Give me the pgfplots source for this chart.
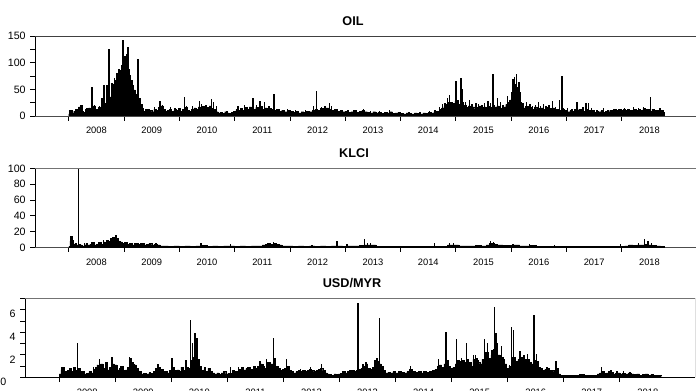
\documentclass[border=0pt]{standalone}
\usepackage{pgfplots}
\pgfplotsset{compat=1.18}
\usepackage{fontspec}
\setmainfont{Liberation Sans}
\pgfplotsset{panel/.style={
  scale only axis, xmin=2007.39, xmax=2019.34, ymin=0,
  axis x line*=bottom, axis y line*=left,
  tick align=outside, major tick length=3.5pt, minor tick length=3.5pt,
  xtick={2008,...,2018}, xticklabels={},
  extra x ticks={2008.5,2009.5,...,2018.5},
  extra x tick labels={2008,2009,2010,2011,2012,2013,2014,2015,2016,2017,2018},
  extra x tick style={tick style={draw=none}},
  x tick label style={font=\fontsize{7}{8}\selectfont, yshift=-1.5pt},
  y tick label style={font=\fontsize{8}{9}\selectfont},
  /pgf/number format/assume math mode=true,
  axis line style={line width=0.6pt},
  tick style={black, line width=0.6pt},
  x axis line style={black!70},
  y axis line style={black},
}}
\begin{document}
\begin{tikzpicture}
\useasboundingbox (0,0) rectangle (522pt,-293.25pt);
\node[font=\fontsize{9.5}{11}\selectfont\bfseries] at (264.75pt,-16.1pt) {OIL};
\node[font=\fontsize{9.5}{11}\selectfont\bfseries] at (265.5pt,-114.75pt) {KLCI};
\node[font=\fontsize{9.5}{11}\selectfont\bfseries] at (264pt,-212.25pt) {USD/MYR};
% ---------------- OIL
\begin{axis}[panel, at={(26.25pt,-87pt)}, anchor=south west, width=495.75pt, height=60pt,
  ymax=150, ytick={0,50,100,150}, minor ytick={25,75,125}]
\addplot[const plot, fill=black, draw=black, line width=0.3pt] coordinates {
(2008.00,4)(2008.03,10)(2008.06,6)(2008.09,9)(2008.12,13)(2008.15,8)(2008.18,17)(2008.21,20)(2008.24,9)(2008.27,7)
(2008.30,13)(2008.33,9)(2008.36,15)(2008.39,11)(2008.42,14)(2008.45,19)(2008.48,13)(2008.51,11)(2008.54,17)(2008.57,14)
(2008.60,20)(2008.63,18)(2008.66,24)(2008.69,27)(2008.72,32)(2008.75,36)(2008.78,50)(2008.81,60)(2008.84,67)(2008.87,74)
(2008.90,80)(2008.93,86)(2008.96,92)(2008.99,98)(2009.02,92)(2009.05,85)(2009.08,76)(2009.11,67)(2009.14,58)(2009.17,49)
(2009.20,40)(2009.23,33)(2009.26,28)(2009.29,22)(2009.32,14)(2009.35,9)(2009.38,12)(2009.42,7)(2009.46,11)(2009.50,8)
(2009.54,13)(2009.58,10)(2009.62,16)(2009.66,19)(2009.70,12)(2009.74,9)(2009.78,11)(2009.82,13)(2009.86,9)(2009.90,12)
(2009.94,10)(2009.98,14)(2010.02,9)(2010.06,12)(2010.10,16)(2010.14,11)(2010.18,9)(2010.22,13)(2010.26,15)(2010.30,12)
(2010.34,17)(2010.38,14)(2010.42,18)(2010.46,13)(2010.50,16)(2010.54,19)(2010.58,14)(2010.62,12)(2010.66,8)(2010.70,6)
(2010.74,7)(2010.78,5)(2010.82,8)(2010.86,6)(2010.90,5)(2010.94,7)(2010.98,9)(2011.02,12)(2011.06,10)(2011.10,14)
(2011.14,11)(2011.18,16)(2011.22,13)(2011.26,17)(2011.30,15)(2011.34,12)(2011.38,16)(2011.42,14)(2011.46,18)(2011.50,13)
(2011.54,15)(2011.58,11)(2011.62,14)(2011.66,12)(2011.70,10)(2011.75,12)(2011.80,9)(2011.85,11)(2011.90,8)(2011.95,10)
(2012.00,9)(2012.05,7)(2012.10,9)(2012.15,6)(2012.20,8)(2012.25,7)(2012.30,9)(2012.35,8)(2012.40,11)(2012.45,13)
(2012.50,11)(2012.55,14)(2012.60,12)(2012.65,15)(2012.70,13)(2012.75,11)(2012.80,12)(2012.85,9)(2012.90,10)(2012.95,8)
(2013.00,9)(2013.05,7)(2013.10,8)(2013.15,10)(2013.20,7)(2013.25,9)(2013.30,11)(2013.35,8)(2013.40,7)(2013.45,6)
(2013.50,8)(2013.55,6)(2013.60,7)(2013.65,5)(2013.70,7)(2013.75,6)(2013.80,8)(2013.85,5)(2013.90,6)(2013.95,7)
(2014.00,5)(2014.05,4)(2014.10,6)(2014.15,5)(2014.20,4)(2014.25,6)(2014.30,5)(2014.35,4)(2014.40,6)(2014.45,5)
(2014.50,7)(2014.55,6)(2014.60,8)(2014.65,9)(2014.70,12)(2014.74,15)(2014.78,18)(2014.82,22)(2014.86,25)(2014.90,20)
(2014.94,24)(2014.98,28)(2015.02,22)(2015.06,18)(2015.10,25)(2015.14,20)(2015.18,16)(2015.22,19)(2015.26,15)(2015.30,17)
(2015.34,13)(2015.38,16)(2015.42,19)(2015.46,14)(2015.50,17)(2015.54,15)(2015.58,18)(2015.62,16)(2015.66,20)(2015.70,17)
(2015.74,19)(2015.78,15)(2015.82,13)(2015.86,17)(2015.90,22)(2015.94,26)(2015.98,30)(2016.02,35)(2016.06,38)(2016.10,32)
(2016.14,25)(2016.18,20)(2016.22,15)(2016.26,18)(2016.30,14)(2016.34,16)(2016.38,13)(2016.42,17)(2016.46,14)(2016.50,12)
(2016.54,15)(2016.58,13)(2016.62,16)(2016.66,12)(2016.70,14)(2016.74,15)(2016.78,11)(2016.82,13)(2016.86,10)(2016.90,14)
(2016.94,9)(2016.98,11)(2017.02,8)(2017.06,10)(2017.10,9)(2017.14,12)(2017.18,10)(2017.22,13)(2017.26,11)(2017.30,9)
(2017.34,12)(2017.38,10)(2017.42,8)(2017.46,10)(2017.50,7)(2017.54,9)(2017.58,8)(2017.62,10)(2017.66,7)(2017.70,9)
(2017.74,8)(2017.78,11)(2017.82,9)(2017.86,12)(2017.90,10)(2017.94,13)(2017.98,11)(2018.02,12)(2018.06,10)(2018.10,13)
(2018.14,11)(2018.18,9)(2018.22,12)(2018.26,10)(2018.30,13)(2018.34,11)(2018.38,14)(2018.42,10)(2018.46,12)(2018.50,9)
(2018.54,13)(2018.58,10)(2018.62,11)(2018.66,8)(2018.70,10)(2018.74,7)(2018.77,5)
} \closedcycle;
\addplot[ycomb, black, line width=1pt, no marks] coordinates {
(2008.02,11)(2008.21,20)(2008.33,15)(2008.42,54)(2008.47,21)(2008.56,19)(2008.60,33)(2008.64,58)(2008.69,58)(2008.73,125)
(2008.78,62)(2008.83,72)(2008.87,80)(2008.91,88)(2008.95,95)(2008.98,142)(2009.00,100)(2009.02,112)(2009.05,116)(2009.07,129)
(2009.09,88)(2009.11,75)(2009.14,60)(2009.16,57)(2009.20,45)(2009.25,106)(2009.29,34)(2009.33,18)(2009.45,14)(2009.55,17)
(2009.65,29)(2009.70,20)(2009.84,16)(2009.92,15)(2010.09,36)(2010.13,19)(2010.24,18)(2010.36,28)(2010.40,22)(2010.48,20)
(2010.58,31)(2010.62,27)(2010.67,18)(2010.86,10)(2011.06,18)(2011.18,20)(2011.28,16)(2011.33,34)(2011.40,20)(2011.46,29)
(2011.54,26)(2011.62,19)(2011.71,42)(2011.80,14)(2011.95,13)(2012.10,11)(2012.28,12)(2012.42,19)(2012.48,46)(2012.57,17)
(2012.63,18)(2012.71,25)(2012.75,18)(2012.83,14)(2013.05,12)(2013.20,11)(2013.33,14)(2013.45,10)(2013.62,9)(2013.80,11)
(2013.97,8)(2014.15,8)(2014.35,7)(2014.52,10)(2014.62,12)(2014.70,17)(2014.76,22)(2014.80,24)(2014.85,34)(2014.88,40)
(2014.93,27)(2015.00,66)(2015.04,30)(2015.09,72)(2015.12,50)(2015.17,26)(2015.24,30)(2015.29,22)(2015.36,24)(2015.41,22)
(2015.47,20)(2015.52,25)(2015.58,29)(2015.63,24)(2015.67,79)(2015.70,20)(2015.75,33)(2015.80,27)(2015.85,20)(2015.93,37)
(2015.97,30)(2016.00,45)(2016.03,69)(2016.06,74)(2016.08,60)(2016.10,79)(2016.12,55)(2016.14,64)(2016.17,45)(2016.21,24)
(2016.28,27)(2016.34,22)(2016.39,18)(2016.44,20)(2016.49,27)(2016.53,18)(2016.58,22)(2016.63,18)(2016.68,20)(2016.75,29)
(2016.80,17)(2016.87,30)(2016.92,75)(2016.96,14)(2017.02,15)(2017.10,13)(2017.19,27)(2017.24,14)(2017.30,17)(2017.35,25)
(2017.40,25)(2017.45,15)(2017.55,12)(2017.67,15)(2017.75,12)(2017.85,13)(2017.95,14)(2018.05,15)(2018.13,14)(2018.21,16)
(2018.30,15)(2018.39,17)(2018.45,14)(2018.52,35)(2018.58,13)(2018.64,12)(2018.69,15)
};
\draw[black!75, line width=0.7pt] (rel axis cs:0,1) -- (rel axis cs:1,1);
\end{axis}
% ---------------- KLCI
\begin{axis}[panel, at={(26.25pt,-185.5pt)}, anchor=south west, width=495.75pt, height=59.25pt,
  ymax=100, ytick={0,20,40,60,80,100}]
\addplot[const plot, fill=black, draw=black, line width=0.3pt] coordinates {
(2008.00,1)(2008.02,8)(2008.04,14)(2008.06,9)(2008.08,4)(2008.11,5)(2008.14,3)(2008.17,4)(2008.20,3)(2008.24,2)
(2008.28,3)(2008.31,5)(2008.34,3)(2008.38,4)(2008.42,6)(2008.46,3)(2008.50,4)(2008.54,6)(2008.58,4)(2008.62,7)
(2008.66,5)(2008.69,9)(2008.72,8)(2008.75,11)(2008.78,10)(2008.80,13)(2008.82,12)(2008.84,15)(2008.86,11)(2008.89,8)
(2008.93,7)(2008.97,5)(2009.01,6)(2009.05,4)(2009.10,5)(2009.15,3)(2009.20,5)(2009.25,4)(2009.30,5)(2009.35,3)
(2009.40,4)(2009.45,5)(2009.50,3)(2009.55,4)(2009.60,3)(2009.65,2)(2009.70,2)(2009.80,1.5)(2009.90,2)(2010.00,1.5)
(2010.10,2)(2010.20,1.5)(2010.30,2)(2010.40,2.5)(2010.50,1.5)(2010.60,2)(2010.70,1.5)(2010.80,2)(2010.90,2)(2011.00,1.5)
(2011.10,2)(2011.20,1.5)(2011.30,2)(2011.40,2)(2011.50,3)(2011.55,4)(2011.60,5)(2011.65,4)(2011.70,5)(2011.75,4)
(2011.80,3)(2011.85,2)(2011.95,2)(2012.05,1.5)(2012.15,2)(2012.25,1.5)(2012.35,2)(2012.45,1.5)(2012.55,2)(2012.65,1.5)
(2012.75,2)(2012.85,2)(2012.95,1.5)(2013.05,2)(2013.15,2)(2013.25,2.5)(2013.35,3)(2013.45,3)(2013.55,1.5)(2013.65,1)
(2013.75,1)(2013.85,1)(2013.95,1)(2014.05,1)(2014.15,1)(2014.25,1)(2014.35,1.5)(2014.45,1)(2014.55,1.5)(2014.65,1.5)
(2014.75,1)(2014.85,3)(2014.95,3)(2015.05,2)(2015.15,2)(2015.25,2)(2015.35,2.5)(2015.45,2)(2015.55,3)(2015.60,5)
(2015.65,5)(2015.70,4)(2015.75,3)(2015.85,2.5)(2015.95,2.5)(2016.05,3)(2016.15,2)(2016.25,2)(2016.35,2.5)(2016.45,1.5)
(2016.55,1)(2016.65,1)(2016.75,1)(2016.85,1)(2016.95,1)(2017.05,1)(2017.15,1)(2017.25,1)(2017.35,1)(2017.45,1)
(2017.55,1)(2017.65,1)(2017.75,1)(2017.85,1)(2017.95,1.5)(2018.05,2)(2018.12,3)(2018.20,2.5)(2018.28,3)(2018.35,3)
(2018.42,4)(2018.48,3)(2018.55,2.5)(2018.62,2)(2018.70,1.5)(2018.77,1)
} \closedcycle;
\addplot[ycomb, black, line width=1pt, no marks] coordinates {
(2008.04,14)(2008.18,100)(2008.29,5)(2008.42,7)(2008.54,6)(2008.63,9)(2008.69,9)(2008.75,11)(2008.80,13.5)(2008.84,15.6)
(2008.88,11)(2008.93,7)(2009.05,6)(2009.20,6)(2009.36,5)(2009.47,6)(2009.58,5)(2010.39,6)(2010.92,4)(2011.60,6)
(2011.70,7)(2012.40,3)(2012.85,8)(2013.03,4)(2013.35,10)(2013.40,5)(2013.46,5)(2014.61,5)(2014.88,5)(2014.95,5)
(2015.62,7.5)(2015.68,7)(2016.03,4)(2016.33,4)(2016.78,3)(2017.97,4)(2018.30,5)(2018.41,10)(2018.47,8)(2018.53,5)
};
\draw[black!55, line width=0.8pt] (rel axis cs:0,1) -- (rel axis cs:1,1);
\end{axis}
% ---------------- USD/MYR
\begin{axis}[panel, at={(18.75pt,-283pt)}, anchor=south west, width=502.5pt, height=59.25pt,
  ymax=7, ytick={2,4,6}, minor ytick={1,3,5,7},
  yticklabel style={yshift=-3.5pt},
  extra y ticks={0}, extra y tick labels={0},
  extra y tick style={yticklabel style={xshift=-7pt}},
  x axis line style={black}]
\addplot[const plot, fill=black, draw=black, line width=0.3pt] coordinates {
(2008.00,0.3)(2008.03,0.65)(2008.06,0.9)(2008.09,0.5)(2008.12,0.3)(2008.15,0.6)(2008.18,0.8)(2008.21,0.5)(2008.25,0.9)(2008.29,0.6)
(2008.33,0.8)(2008.37,0.4)(2008.40,0.5)(2008.44,0.3)(2008.49,0.35)(2008.53,0.5)(2008.57,0.4)(2008.61,0.7)(2008.65,0.9)(2008.67,1.1)
(2008.70,0.9)(2008.74,1.2)(2008.78,0.8)(2008.82,1.3)(2008.86,0.65)(2008.90,0.9)(2008.94,1.2)(2008.98,1.1)(2009.03,0.65)(2009.07,0.8)
(2009.10,0.95)(2009.14,0.6)(2009.18,0.65)(2009.22,0.9)(2009.26,1.3)(2009.30,1.2)(2009.33,1.1)(2009.37,0.8)(2009.41,0.5)(2009.46,0.3)
(2009.50,0.35)(2009.55,0.3)(2009.60,0.4)(2009.64,0.35)(2009.68,0.5)(2009.72,0.8)(2009.76,0.9)(2009.80,0.7)(2009.85,0.5)(2009.89,0.5)
(2009.93,0.4)(2009.97,0.6)(2010.01,0.9)(2010.05,0.6)(2010.10,0.65)(2010.14,0.5)(2010.17,0.9)(2010.21,0.6)(2010.26,0.9)(2010.30,0.8)
(2010.34,1.5)(2010.38,1.8)(2010.42,1.9)(2010.46,1.6)(2010.49,0.95)(2010.53,0.6)(2010.57,0.65)(2010.61,0.5)(2010.65,0.8)(2010.69,0.5)
(2010.73,0.4)(2010.77,0.3)(2010.81,0.4)(2010.85,0.25)(2010.89,0.4)(2010.93,0.5)(2010.97,0.3)(2011.01,0.35)(2011.05,0.35)(2011.09,0.6)
(2011.13,0.5)(2011.17,0.5)(2011.21,0.7)(2011.25,0.9)(2011.29,0.65)(2011.33,0.8)(2011.37,0.9)(2011.41,0.7)(2011.46,0.95)(2011.50,0.8)
(2011.54,1.0)(2011.58,1.2)(2011.62,1.0)(2011.66,0.8)(2011.70,1.3)(2011.74,1.1)(2011.78,1.2)(2011.82,1.3)(2011.86,1.0)(2011.90,0.8)
(2011.94,0.6)(2011.98,0.7)(2012.02,0.8)(2012.06,1.0)(2012.10,0.6)(2012.14,0.5)(2012.18,0.4)(2012.22,0.5)(2012.26,0.6)(2012.30,0.5)
(2012.34,0.6)(2012.38,0.5)(2012.42,0.6)(2012.46,0.7)(2012.50,0.6)(2012.54,0.5)(2012.58,0.6)(2012.62,0.7)(2012.66,0.8)(2012.70,0.6)
(2012.74,0.4)(2012.78,0.3)(2012.82,0.25)(2012.86,0.2)(2012.90,0.3)(2012.94,0.25)(2012.98,0.3)(2013.02,0.35)(2013.06,0.5)(2013.10,0.4)
(2013.14,0.5)(2013.18,0.6)(2013.22,0.6)(2013.26,0.5)(2013.30,0.6)(2013.34,0.7)(2013.38,0.8)(2013.42,1.0)(2013.46,1.2)(2013.50,0.8)
(2013.54,0.7)(2013.58,0.9)(2013.62,1.2)(2013.66,1.4)(2013.70,1.2)(2013.74,1.0)(2013.78,0.6)(2013.82,0.4)(2013.86,0.45)(2013.90,0.4)
(2013.95,0.5)(2014.00,0.4)(2014.05,0.5)(2014.10,0.45)(2014.15,0.4)(2014.20,0.5)(2014.25,0.7)(2014.30,0.5)(2014.35,0.45)(2014.40,0.5)
(2014.45,0.4)(2014.50,0.5)(2014.55,0.45)(2014.60,0.5)(2014.65,0.6)(2014.70,0.7)(2014.74,1.0)(2014.78,1.1)(2014.82,0.9)(2014.86,1.2)
(2014.90,1.5)(2014.94,1.0)(2014.98,0.8)(2015.02,0.9)(2015.06,1.2)(2015.10,1.5)(2015.14,1.4)(2015.18,1.5)(2015.22,1.3)(2015.26,1.6)
(2015.30,1.3)(2015.34,1.0)(2015.38,1.6)(2015.42,1.7)(2015.46,1.3)(2015.50,1.2)(2015.54,1.6)(2015.58,2.2)(2015.62,2.2)(2015.66,1.7)
(2015.70,2.0)(2015.74,2.5)(2015.78,2.6)(2015.82,2.0)(2015.86,1.8)(2015.90,1.6)(2015.94,1.2)(2015.98,0.8)(2016.02,1.0)(2016.06,1.8)
(2016.10,1.8)(2016.14,1.4)(2016.18,1.6)(2016.22,1.8)(2016.26,1.5)(2016.30,1.6)(2016.34,1.6)(2016.38,1.3)(2016.42,1.2)(2016.46,1.5)
(2016.50,1.4)(2016.54,0.9)(2016.58,0.8)(2016.62,0.6)(2016.66,0.7)(2016.70,0.8)(2016.74,0.6)(2016.78,0.6)(2016.82,0.5)(2016.86,0.8)
(2016.90,0.3)(2016.94,0.2)(2016.98,0.15)(2017.05,0.2)(2017.12,0.15)(2017.20,0.2)(2017.28,0.25)(2017.36,0.2)(2017.44,0.15)(2017.52,0.2)
(2017.60,0.3)(2017.64,0.4)(2017.68,0.5)(2017.72,0.35)(2017.76,0.4)(2017.80,0.5)(2017.84,0.45)(2017.88,0.3)(2017.92,0.35)(2017.96,0.4)
(2018.00,0.3)(2018.05,0.35)(2018.10,0.3)(2018.15,0.4)(2018.20,0.3)(2018.25,0.25)(2018.30,0.3)(2018.35,0.2)(2018.40,0.25)(2018.45,0.3)
(2018.50,0.2)(2018.55,0.25)(2018.60,0.2)(2018.65,0.15)(2018.73,0.1)
} \closedcycle;
\addplot[ycomb, black, line width=1pt, no marks] coordinates {
(2008.05,0.9)(2008.33,3.05)(2008.61,0.9)(2008.72,1.6)(2008.76,1.2)(2008.82,1.3)(2008.94,1.83)(2009.10,1.0)(2009.25,1.83)(2009.28,1.7)
(2009.32,1.4)(2009.62,0.5)(2009.76,1.15)(2010.01,1.75)(2010.26,1.5)(2010.34,5.05)(2010.38,3.0)(2010.42,3.95)(2010.46,3.5)(2010.60,0.95)
(2011.05,0.9)(2011.20,0.9)(2011.37,0.95)(2011.58,1.45)(2011.64,1.2)(2011.70,1.6)(2011.76,1.4)(2011.82,3.5)(2011.85,1.7)(2012.05,1.6)
(2012.30,0.7)(2012.48,0.9)(2012.68,1.2)(2013.06,0.55)(2013.22,0.6)(2013.33,6.6)(2013.42,1.2)(2013.47,1.4)(2013.63,1.5)(2013.67,1.7)
(2013.71,5.3)(2013.75,1.1)(2014.26,1.0)(2014.76,1.6)(2014.90,4.05)(2015.09,3.37)(2015.14,1.55)(2015.18,1.7)(2015.22,1.4)(2015.27,3.07)
(2015.33,1.4)(2015.39,2.0)(2015.42,2.0)(2015.48,1.5)(2015.59,3.37)(2015.64,3.0)(2015.68,1.7)(2015.72,2.4)(2015.76,6.26)(2015.79,3.9)
(2015.81,3.0)(2015.86,2.0)(2015.89,2.78)(2015.92,1.8)(2016.03,1.1)(2016.07,4.5)(2016.10,4.2)(2016.14,1.7)(2016.22,2.3)(2016.26,1.8)
(2016.29,2.0)(2016.35,2.1)(2016.38,1.5)(2016.47,5.5)(2016.51,2.1)(2016.57,0.95)(2016.70,0.9)(2016.86,1.48)(2017.67,0.9)(2017.84,0.65)
(2017.95,0.6)(2018.07,0.6)(2018.18,0.5)
};
\draw[black!55, line width=0.8pt] (rel axis cs:0,1) -- (rel axis cs:1,1);
\draw[black, line width=0.6pt] (rel axis cs:1,0) -- (rel axis cs:1,1);
\end{axis}
\end{tikzpicture}
\end{document}
